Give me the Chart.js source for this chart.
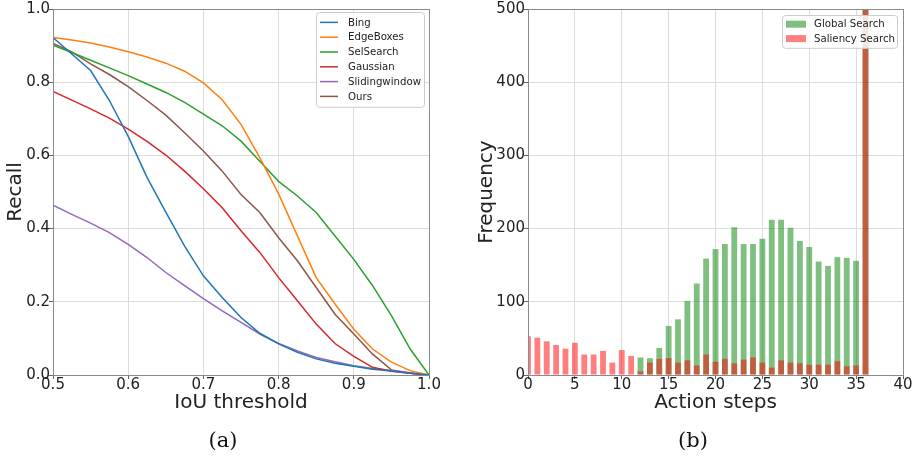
<!DOCTYPE html>
<html>
<head>
<meta charset="utf-8">
<script src="https://cdn.jsdelivr.net/npm/chart.js@4.4.0/dist/chart.umd.min.js"></script>
<style>
  body { margin: 0; background: #fff; width: 921px; height: 459px; position: relative; overflow: hidden; }
  canvas { position: absolute; top: 0; }
  #left { left: 0; }
  #right { left: 460px; }
  .cap { position: absolute; top: 428px; font-family: "DejaVu Serif", "Liberation Serif", serif; font-size: 21px; color: #111; transform: translateX(-50%); }
</style>
</head>
<body>
<canvas id="left" width="450" height="430"></canvas>
<canvas id="right" width="461" height="430"></canvas>
<div class="cap" style="left:223px">(a)</div>
<div class="cap" style="left:693px">(b)</div>
<script>
// recall curves (left)
const iou = [0.5, 0.525, 0.55, 0.575, 0.6, 0.625, 0.65, 0.675, 0.7, 0.725, 0.75, 0.775, 0.8, 0.825, 0.85, 0.875, 0.9, 0.925, 0.95, 0.975, 1.0];
const bing = [0.922, 0.877, 0.832, 0.750, 0.652, 0.540, 0.445, 0.352, 0.271, 0.212, 0.157, 0.114, 0.085, 0.062, 0.044, 0.032, 0.024, 0.016, 0.011, 0.005, 0.0];
const edgeBoxes = [0.922, 0.915, 0.907, 0.896, 0.883, 0.869, 0.852, 0.830, 0.798, 0.752, 0.685, 0.594, 0.495, 0.380, 0.266, 0.194, 0.125, 0.071, 0.035, 0.012, 0.0];
const selSearch = [0.901, 0.881, 0.860, 0.839, 0.818, 0.795, 0.772, 0.745, 0.713, 0.681, 0.639, 0.584, 0.529, 0.489, 0.444, 0.380, 0.316, 0.244, 0.162, 0.071, 0.0];
const gaussian = [0.775, 0.751, 0.727, 0.702, 0.672, 0.638, 0.601, 0.557, 0.509, 0.457, 0.394, 0.335, 0.266, 0.203, 0.139, 0.086, 0.051, 0.021, 0.010, 0.005, 0.0];
const slidingWindow = [0.464, 0.439, 0.415, 0.389, 0.357, 0.321, 0.280, 0.244, 0.209, 0.175, 0.144, 0.112, 0.086, 0.066, 0.048, 0.036, 0.025, 0.018, 0.012, 0.006, 0.0];
const ours = [0.906, 0.883, 0.850, 0.821, 0.788, 0.750, 0.710, 0.662, 0.612, 0.557, 0.493, 0.444, 0.375, 0.312, 0.239, 0.166, 0.112, 0.057, 0.014, 0.005, 0.0];

// action step histogram (right)
const steps = [0, 1, 2, 3, 4, 5, 6, 7, 8, 9, 10, 11, 12, 13, 14, 15, 16, 17, 18, 19, 20, 21, 22, 23, 24, 25, 26, 27, 28, 29, 30, 31, 32, 33, 34, 35, 36];
const globalSearch = [0, 0, 0, 0, 0, 0, 0, 0, 0, 0, 0, 0, 24, 23, 37, 67, 76, 101, 125, 159, 172, 179, 202, 179, 179, 186, 212, 212, 201, 183, 175, 155, 149, 161, 160, 156, 600];
const saliencySearch = [53, 51, 46, 41, 36, 44, 28, 28, 33, 17, 34, 26, 5, 17, 22, 23, 17, 20, 13, 28, 18, 22, 16, 21, 24, 17, 10, 20, 17, 16, 14, 14, 14, 19, 12, 13, 600];

const FONT = "'DejaVu Sans', sans-serif";
const INK = '#222';

// frame + matplotlib style legend inside the plot area
const mplFrame = {
    id: 'mplFrame',
    afterDraw(chart, args, opts) {
        const ctx = chart.ctx;
        const a = chart.chartArea;
        ctx.save();
        ctx.strokeStyle = '#8a8a8a';
        ctx.lineWidth = 1;
        ctx.strokeRect(Math.round(a.left) + 0.5, Math.round(a.top) + 0.5, Math.round(a.right - a.left), Math.round(a.bottom - a.top));

        const lg = opts.legend;
        if (lg) {
            const sets = chart.data.datasets;
            const x0 = a.right - lg.right - lg.w;
            const y0 = a.top + lg.top;
            const h = lg.pad * 2 + lg.row * sets.length;
            ctx.fillStyle = 'rgba(255,255,255,0.85)';
            ctx.strokeStyle = '#cccccc';
            ctx.beginPath();
            ctx.roundRect(x0 + 0.5, y0 + 0.5, lg.w, h, 3);
            ctx.fill();
            ctx.stroke();
            ctx.font = '10.2px ' + FONT;
            ctx.textBaseline = 'middle';
            sets.forEach((ds, i) => {
                const cy = y0 + lg.pad + lg.row * (i + 0.5);
                if (lg.patch) {
                    ctx.fillStyle = ds.backgroundColor;
                    ctx.fillRect(x0 + 4, cy - 3.5, 20, 7);
                } else {
                    ctx.strokeStyle = ds.borderColor;
                    ctx.lineWidth = 1.5;
                    ctx.beginPath();
                    ctx.moveTo(x0 + 4, cy);
                    ctx.lineTo(x0 + 22, cy);
                    ctx.stroke();
                }
                ctx.fillStyle = INK;
                ctx.fillText(ds.label, x0 + lg.text, cy + 0.5);
            });
        }
        ctx.restore();
    }
};

let axisX = function (min, max, step, fmt, title, height) {
    return {
        type: 'linear', min: min, max: max, offset: false,
        grid: { color: '#dcdcdc', tickColor: '#666', tickLength: 4, offset: false },
        border: { color: '#8a8a8a' },
        ticks: { stepSize: step, color: INK, padding: -1, maxRotation: 0, font: { family: FONT, size: 15, lineHeight: 1 }, callback: fmt },
        title: { display: true, text: title, color: INK, padding: { top: 0, bottom: 4 }, font: { family: FONT, size: 20 } },
        afterFit: (s) => { s.height = height; }
    };
};
let axisY = function (min, max, step, fmt, title, width) {
    return {
        type: 'linear', min: min, max: max,
        grid: { color: '#dcdcdc', tickColor: '#666', tickLength: 4 },
        border: { color: '#8a8a8a' },
        ticks: { stepSize: step, color: INK, padding: -1, font: { family: FONT, size: 15, lineHeight: 1 }, callback: fmt },
        title: { display: true, text: title, color: INK, padding: { top: 4, bottom: 0 }, font: { family: FONT, size: 20 } },
        afterFit: (s) => { s.width = width; }
    };
};

const toPts = (ys) => ys.map((y, i) => ({ x: iou[i], y: y }));
const curve = (label, ys, color) => ({
    label: label, data: toPts(ys), borderColor: color, backgroundColor: color,
    borderWidth: 1.5, pointRadius: 0, tension: 0, fill: false
});

new Chart(document.getElementById('left'), {
    type: 'line',
    data: {
        datasets: [
            curve('Bing', bing, '#1f77b4'),
            curve('EdgeBoxes', edgeBoxes, '#ff7f0e'),
            curve('SelSearch', selSearch, '#2ca02c'),
            curve('Gaussian', gaussian, '#d62728'),
            curve('Slidingwindow', slidingWindow, '#9467bd'),
            curve('Ours', ours, '#8c564b')
        ]
    },
    options: {
        responsive: false, animation: false, devicePixelRatio: 1,
        layout: { padding: { top: 9, right: 21, bottom: 11, left: 0 } },
        plugins: {
            legend: { display: false }, tooltip: { enabled: false },
            mplFrame: { legend: { right: 5, top: 3, w: 108, pad: 3, row: 14.8, text: 32 } }
        },
        scales: {
            x: axisX(0.5, 1.0, 0.1, (v) => v.toFixed(1), 'IoU threshold', 44),
            y: axisY(0, 1.0, 0.2, (v) => v.toFixed(1), 'Recall', 53)
        }
    },
    plugins: [mplFrame]
});

new Chart(document.getElementById('right'), {
    type: 'bar',
    data: {
        datasets: [
            {
                label: 'Global Search', order: 2,
                data: steps.map((s, i) => ({ x: s, y: globalSearch[i] })),
                backgroundColor: 'rgba(0,128,0,0.5)', borderWidth: 0,
                barPercentage: 0.62, categoryPercentage: 1.0, grouped: false
            },
            {
                label: 'Saliency Search', order: 1,
                data: steps.map((s, i) => ({ x: s, y: saliencySearch[i] })),
                backgroundColor: 'rgba(255,0,0,0.5)', borderWidth: 0,
                barPercentage: 0.62, categoryPercentage: 1.0, grouped: false
            }
        ]
    },
    options: {
        responsive: false, animation: false, devicePixelRatio: 1,
        layout: { padding: { top: 9, right: 18, bottom: 11, left: 11 } },
        plugins: {
            legend: { display: false }, tooltip: { enabled: false },
            mplFrame: { legend: { right: 6, top: 6, w: 115, pad: 2, row: 14.4, text: 32, patch: true } }
        },
        scales: {
            x: axisX(0, 40, 5, (v) => String(v), 'Action steps', 44),
            y: axisY(0, 500, 100, (v) => String(v), 'Frequency', 57)
        }
    },
    plugins: [mplFrame]
});
</script>
</body>
</html>
